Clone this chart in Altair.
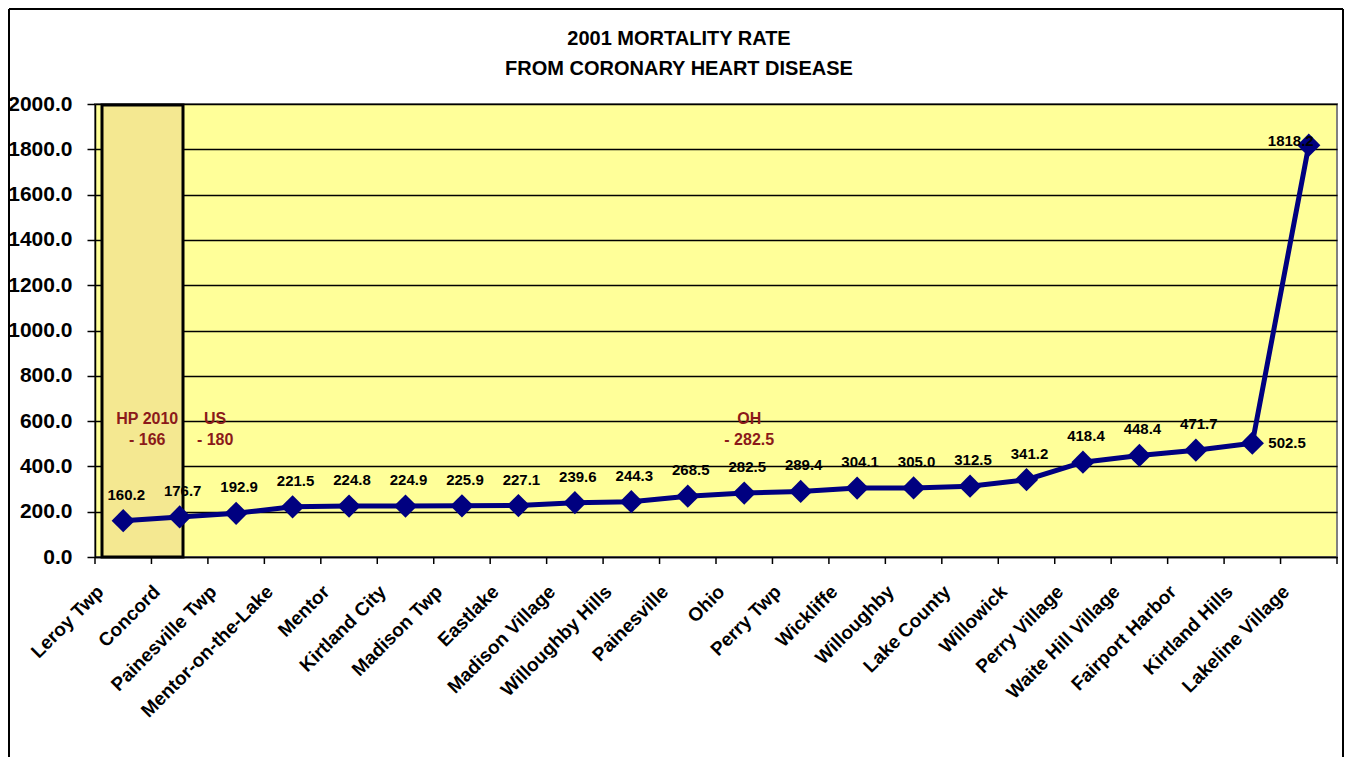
import altair as alt
import pandas as pd

places = ["Leroy Twp", "Concord", "Painesville Twp", "Mentor-on-the-Lake", "Mentor",
          "Kirtland City", "Madison Twp", "Eastlake", "Madison Village", "Willoughby Hills",
          "Painesville", "Ohio", "Perry Twp", "Wickliffe", "Willoughby", "Lake County",
          "Willowick", "Perry Village", "Waite Hill Village", "Fairport Harbor",
          "Kirtland Hills", "Lakeline Village"]
rates = [160.2, 176.7, 192.9, 221.5, 224.8, 224.9, 225.9, 227.1, 239.6, 244.3,
         268.5, 282.5, 289.4, 304.1, 305.0, 312.5, 341.2, 418.4, 448.4, 471.7,
         502.5, 1818.2]
y_ticks = [0, 200, 400, 600, 800, 1000, 1200, 1400, 1600, 1800, 2000]

title_lines = ["2001 MORTALITY RATE", "FROM CORONARY HEART DISEASE"]

ann_text = [["HP 2010", "- 166"], ["US", "- 180"], ["OH", "- 282.5"]]
ann_place = ["Leroy Twp", "Painesville Twp", "Ohio"]
ann_level = [610, 610, 610]

W, H = 1242, 453
FONT = "Liberation Sans"
NAVY = "#000080"

df = pd.DataFrame({"place": places, "rate": rates})
df["label"] = df["rate"].map(lambda v: f"{v:.1f}")
df["kind"] = ["normal"] * 20 + ["right", "left"]

xs = alt.X("place:N", sort=places, title=None,
           scale=alt.Scale(paddingInner=0, paddingOuter=0),
           axis=alt.Axis(labelAngle=-45, labelFontSize=19, labelFont=FONT,
                         labelFontWeight="bold", labelColor="black", ticks=False,
                         domainColor="black", domainWidth=1.5, labelPadding=25,
                         labelOffset=-29, labelLimit=300))
ys = alt.Y("rate:Q", title=None,
           scale=alt.Scale(domain=[0, 2000], nice=False),
           axis=alt.Axis(values=y_ticks, format=".1f", labelFontSize=21, labelFont=FONT,
                         labelFontWeight="bold", labelColor="black", tickColor="black",
                         tickSize=8, tickWidth=1.5, labelPadding=15, domainColor="black",
                         domainWidth=1.5, gridColor="black", gridWidth=1.5, gridOpacity=1))

base = alt.Chart(df)
one = alt.datum.place == "Leroy Twp"

highlight = base.mark_rect(fill="#F4E891", stroke="black", strokeWidth=3).encode(
    x=alt.value(7), x2=alt.value(88), y=alt.value(1), y2=alt.value(H)
).transform_filter(one)

line = base.mark_line(color=NAVY, strokeWidth=5).encode(x=xs, y=ys)
pts = base.mark_point(shape="diamond", filled=True, color=NAVY, size=540, opacity=1).encode(
    x=alt.X("place:N", sort=places), y="rate:Q")

xticks = base.mark_rule(color="black", strokeWidth=1.5).encode(
    x=alt.X("place:N", sort=places, bandPosition=0), y=alt.value(H), y2=alt.value(H + 7))
lastTick = base.mark_rule(color="black", strokeWidth=1.5).encode(
    x=alt.value(W), y=alt.value(H), y2=alt.value(H + 7)
).transform_filter(one)

lbl_style = dict(font=FONT, fontSize=15, fontWeight="bold", color="black")
lbl_normal = base.mark_text(dy=-26, dx=3, **lbl_style).encode(
    x=alt.X("place:N", sort=places), y="rate:Q", text="label:N"
).transform_filter(alt.datum.kind == "normal")
lbl_right = base.mark_text(align="left", dx=16, dy=0, **lbl_style).encode(
    x=alt.X("place:N", sort=places), y="rate:Q", text="label:N"
).transform_filter(alt.datum.kind == "right")
lbl_left = base.mark_text(dx=-18, dy=-4, **lbl_style).encode(
    x=alt.X("place:N", sort=places), y="rate:Q", text="label:N"
).transform_filter(alt.datum.kind == "left")

ann_df = pd.DataFrame({"place": ann_place, "level": ann_level,
                       "txt": ann_text, "i": [0, 1, 2]})
ann_base = alt.Chart(ann_df)
ann_style = dict(font=FONT, fontSize=16, fontWeight="bold", color="#8B1A1A", lineHeight=21)
ann_layers = []
for i, dx in enumerate([24, -21, 5]):
    ann_layers.append(
        ann_base.mark_text(dx=dx, **ann_style).encode(
            x=alt.X("place:N", sort=places), y="level:Q", text="txt"
        ).transform_filter(alt.datum.i == i)
    )

title_df = pd.DataFrame({"t": [title_lines]})
title_mark = alt.Chart(title_df).mark_text(
    font=FONT, fontSize=20, fontWeight="bold", color="black", lineHeight=30,
    baseline="middle").encode(x=alt.value(584), y=alt.value(-65), text="t")

frame = base.mark_rule(color="black", strokeWidth=2).encode(
    x=alt.value(-86), y=alt.value(-95), y2=alt.value(H + 220)
).transform_filter(one)
frame_top = base.mark_rule(color="black", strokeWidth=2).encode(
    x=alt.value(-86), x2=alt.value(W + 6), y=alt.value(-95)
).transform_filter(one)
frame_right = base.mark_rule(color="black", strokeWidth=2).encode(
    x=alt.value(W + 6), y=alt.value(-95), y2=alt.value(H + 220)
).transform_filter(one)

chart = alt.layer(
    highlight, line, pts, xticks, lastTick, lbl_normal, lbl_right, lbl_left,
    *ann_layers, title_mark, frame, frame_top, frame_right
).properties(
    width=W, height=H,
    background="white",
    autosize=alt.AutoSizeParams(type="none"),
    padding={"left": 87, "top": 96, "right": 7, "bottom": 200},
).configure_view(
    fill="#FFFF99", stroke="#808080", strokeWidth=2
)

chart.save("out.html", embed_options={"renderer": "svg", "actions": False})
